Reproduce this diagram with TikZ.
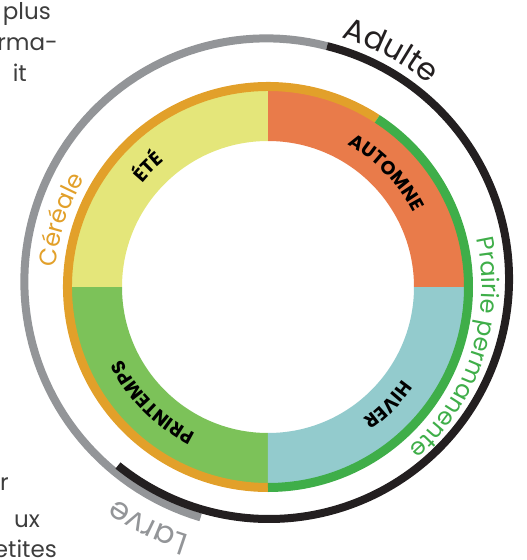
\documentclass[tikz,border=0pt]{standalone}
\usepackage{fontspec}
\setmainfont{Poppins}
\usetikzlibrary{decorations.text}
\definecolor{ete}{HTML}{E4E67A}
\definecolor{automne}{HTML}{E97B4A}
\definecolor{hiver}{HTML}{93CBCD}
\definecolor{printemps}{HTML}{7CC259}
\definecolor{cereale}{HTML}{E2A02A}
\definecolor{prairie}{HTML}{3FAE49}
\definecolor{gris}{HTML}{939598}
\definecolor{noir}{HTML}{231F20}
\definecolor{texte}{HTML}{3D3D3D}
\newcommand{\policeanneau}{\fontsize{31}{37}\selectfont}
\newcommand{\policesaison}{\fontsize{19}{23}\selectfont\bfseries}
\newcommand{\policeculture}{\fontsize{24}{29}\selectfont}

\begin{document}
\begin{tikzpicture}[x=1pt, y=1pt]
\tikzset{marge/.style={font=\fontsize{23}{28}\selectfont, text=texte, inner sep=0pt, anchor=base east}}
\tikzset{bande/.style={line width=9}}
\tikzset{anneau/.style={line width=8}}
\tikzset{courbe/.style={decorate, decoration={text along path, text align=center, text={#1}}}}
\clip (-268,-273) rectangle (259,287);
\useasboundingbox (-268,-273) rectangle (259,287);
\foreach \saison/\debut in {automne/0, ete/90, printemps/180, hiver/270}
  \fill[\saison] (\debut:146) arc[start angle=\debut, end angle=\debut+90, radius=146] -- (\debut+90:197) arc[start angle=\debut+90, end angle=\debut, radius=197] -- cycle;
\draw[bande, cereale] (57:200.5) arc[start angle=57, end angle=270, radius=200.5];
\draw[bande, prairie] (-90:200.5) arc[start angle=-90, end angle=57, radius=200.5];
\draw[anneau, gris] plot[domain=76:254, samples=80] ({1+(240+8*(\x-76)/178)*cos(\x)}, {8+(240+8*(\x-76)/178)*sin(\x)});
\draw[anneau, noir, shift={(1,8)}] (76:240) arc[start angle=76, end angle=-129, radius=240];
\path[courbe={|\policesaison|ÉTÉ}] (165:163) arc[start angle=165, end angle=105, radius=163];
\path[courbe={|\policesaison|AUTOMNE}] (80:163) arc[start angle=80, end angle=8, radius=163];
\path[courbe={|\policesaison|HIVER}] (-10:163) arc[start angle=-10, end angle=-79, radius=163];
\path[courbe={|\policesaison|PRINTEMPS}] (-95:163) arc[start angle=-95, end angle=-175, radius=163];
\path[courbe={|\policeculture\color{cereale}|Céréale}] (200:213) arc[start angle=200, end angle=124, radius=213];
\path[courbe={|\policeculture\color{prairie}|Prairie permanente}] (40:214) arc[start angle=40, end angle=-76, radius=214];
\path[courbe={|\policeanneau\color{noir}|Adulte}, shift={(1,8)}] (100:252) arc[start angle=100, end angle=24, radius=252];
\path[courbe={|\policeanneau\color{gris}|Larve}, shift={(1,8)}] (-80:268) arc[start angle=-80, end angle=-152, radius=268];
\node[marge] (l1) at (-217,267) {plus};
\node[marge] (l2) at (-210,236) {rma-};
\node[marge] (l3) at (-241,205) {it};
\node[marge] (l4) at (-259,-203) {r};
\node[marge] (l5) at (-228,-240) {ux};
\node[marge] (l6) at (-211,-270) {etites};
\end{tikzpicture}
\end{document}
